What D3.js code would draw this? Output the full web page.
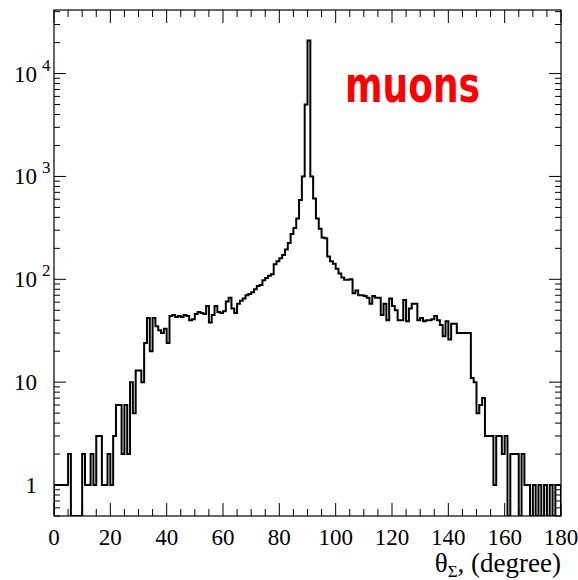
<!DOCTYPE html>
<html><head><meta charset="utf-8">
<script src="https://cdn.jsdelivr.net/npm/d3@7"></script>
<style>body{margin:0;background:#fff;overflow:hidden}</style>
</head><body>
<svg id="chart" width="578" height="580"></svg>
<script>
// ---- data ----
const binStart = 0;
const binWidth = 1;
const counts = [
  1,1,1,1,1,2,0,0,0,0,           // 0-9
  2,1,1,2,1,3,3,1,1,2,           // 10-19
  1,3,6,6,2,6,2,10,5,13,         // 20-29
  13,10,24,42,20,42,35,32,30,33, // 30-39
  24,44,45,43,44,43,45,44,40,41, // 40-49
  46,48,47,46,55,38,45,55,48,47, // 50-59
  49,61,66,52,47,58,62,65,70,72, // 60-69
  75,80,86,88,98,103,108,112,140,150, // 70-79
  160,172,195,225,275,315,390,590,1000,5000, // 80-89
  21000,1000,610,390,310,255,250,167,150,142, // 90-99
  127,114,104,99,99,100,73,78,70,70,          // 100-109
  69,66,58,69,66,66,45,58,40,65,              // 110-119
  55,50,40,40,63,39,52,58,58,40,              // 120-129
  42,39,40,40,41,44,40,36,28,39,              // 130-139
  26,37,37,30,30,30,30,30,11,10,              // 140-149
  5,6,7,3,3,3,1,3,3,2,                        // 150-159
  3,0,2,2,2,0,2,1,1,0,                        // 160-169
  1,0,1,0,1,0,1,0,1,1                         // 170-179
];
const xTickLabels = [0,20,40,60,80,100,120,140,160,180];
const yMajorValues = [1,10,100,1000,10000];
const yLabelBase = ["1","10","10","10","10"];
const yLabelExp  = ["","","2","3","4"];
const seriesName = "muons";

// ---- layout ----
const svg = d3.select("#chart");
const L = 54, R = 561, T = 10, B = 516;
const x = d3.scaleLinear().domain([0,180]).range([L,R]);
const y = d3.scaleLog().domain([0.5, 41500]).range([B,T]).clamp(true);
const serif = "'Liberation Serif','DejaVu Serif',serif";

svg.append("defs").append("clipPath").attr("id","clip")
  .append("rect").attr("x",L).attr("y",T).attr("width",R-L).attr("height",B-T);

// histogram outline
const pts = [[binStart, null]];
counts.forEach((c,i)=>pts.push([binStart+i*binWidth, c]));
pts.push([binStart+counts.length*binWidth, counts[counts.length-1]]);
pts.push([binStart+counts.length*binWidth, null]);
const line = d3.line()
  .x(d=>x(d[0]))
  .y(d=>(d[1]===null||d[1]<=0) ? B : y(d[1]))
  .curve(d3.curveStepAfter);
svg.append("path").attr("clip-path","url(#clip)")
  .attr("d", line(pts))
  .attr("fill","none").attr("stroke","#000").attr("stroke-width",2)
  .attr("stroke-linejoin","miter");

// frame
svg.append("rect").attr("x",L).attr("y",T).attr("width",R-L).attr("height",B-T)
  .attr("fill","none").attr("stroke","#000").attr("stroke-width",1.2);

// x ticks (bottom and top)
const xt = d3.range(0,181,5);
const gx = svg.append("g").attr("stroke","#000").attr("stroke-width",1);
xt.forEach(v=>{
  const len = v%20===0 ? 13 : 7;
  gx.append("line").attr("x1",x(v)).attr("x2",x(v)).attr("y1",B).attr("y2",B-len);
  gx.append("line").attr("x1",x(v)).attr("x2",x(v)).attr("y1",T).attr("y2",T+len);
});
// y ticks (left and right)
const yt = [];
for (let d=-1; d<=4; d++) for (let k=1;k<=9;k++){ const v=k*Math.pow(10,d); if(v>=0.5 && v<=41500) yt.push([v,k===1]); }
yt.forEach(([v,maj])=>{
  const len = maj ? 12 : 6;
  gx.append("line").attr("x1",L).attr("x2",L+len).attr("y1",y(v)).attr("y2",y(v));
  gx.append("line").attr("x1",R).attr("x2",R-len).attr("y1",y(v)).attr("y2",y(v));
});

// x labels
svg.append("g").selectAll("text").data(xTickLabels).join("text")
  .attr("x",d=>x(d)).attr("y",545).attr("text-anchor","middle")
  .attr("font-family",serif).attr("font-size",23).attr("fill","#000")
  .text(d=>d);

// y labels
yMajorValues.forEach((v,i)=>{
  svg.append("text").attr("x",37).attr("y",y(v)+8).attr("text-anchor","end")
    .attr("font-family",serif).attr("font-size",23).attr("fill","#000").text(yLabelBase[i]);
  if (yLabelExp[i]) svg.append("text").attr("x",42).attr("y",y(v)-3)
    .attr("font-family",serif).attr("font-size",17).attr("fill","#000").text(yLabelExp[i]);
});

// x title
const tt = svg.append("text").attr("x",R).attr("y",572).attr("text-anchor","end")
  .attr("font-family",serif).attr("font-size",27).attr("fill","#000");
tt.append("tspan").text("θ");
tt.append("tspan").attr("font-size",17).attr("dy",5).text("Σ");
tt.append("tspan").attr("dy",-5).text(", (degree)");

// series label
svg.append("text").attr("x",345).attr("y",102)
  .attr("font-family","'DejaVu Sans',sans-serif").attr("font-weight","bold")
  .attr("font-size",50).attr("fill","#ff0000")
  .attr("textLength",135).attr("lengthAdjust","spacingAndGlyphs")
  .text(seriesName);
</script>
</body></html>
